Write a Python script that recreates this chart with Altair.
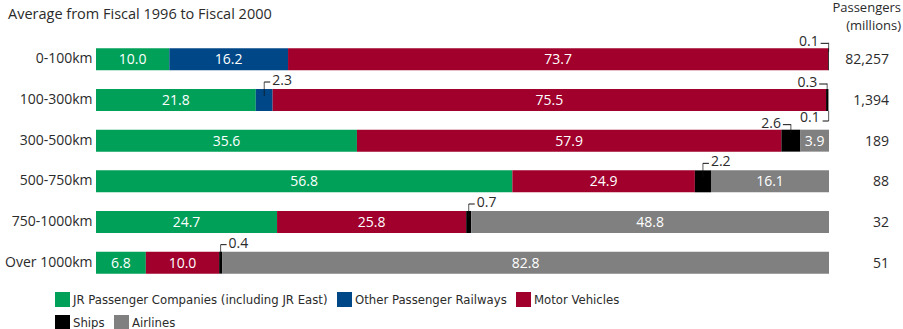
import altair as alt
import pandas as pd

categories = ["0-100km", "100-300km", "300-500km", "500-750km", "750-1000km", "Over 1000km"]
series = ["JR Passenger Companies (including JR East)", "Other Passenger Railways",
          "Motor Vehicles", "Ships", "Airlines"]
colors = ["#00a058", "#004787", "#a0002b", "#000000", "#808080"]

jr = [10.0, 21.8, 35.6, 56.8, 24.7, 6.8]
other_rail = [16.2, 2.3, 0.0, 0.0, 0.0, 0.0]
motor = [73.7, 75.5, 57.9, 24.9, 25.8, 10.0]
ships = [0.1, 0.3, 2.6, 2.2, 0.7, 0.4]
airlines = [0.0, 0.1, 3.9, 16.1, 48.8, 82.8]
passengers = ["82,257", "1,394", "189", "88", "32", "51"]

subtitle = "Average from Fiscal 1996 to Fiscal 2000"
header = "Passengers\n(millions)"

# small callouts: (category, series, placement)
callouts = [
    ("0-100km", "Ships", "above-left"),
    ("100-300km", "Ships", "above-left"),
    ("100-300km", "Airlines", "below-left"),
    ("300-500km", "Ships", "above-left"),
    ("500-750km", "Ships", "above-right"),
    ("100-300km", "Other Passenger Railways", "above-right"),
    ("750-1000km", "Ships", "above-right"),
    ("Over 1000km", "Ships", "above-right"),
]

FONT = "Open Sans"
LEGEND_FONT = "Liberation Sans Narrow, DejaVu Sans Condensed, Roboto"
TXT = "#2b2b2b"

values = [jr, other_rail, motor, ships, airlines]
rows = []
for ci, cat in enumerate(categories):
    cum = 0.0
    for si, s in enumerate(series):
        v = values[si][ci]
        rows.append({"category": cat, "series": s, "value": v, "x0": cum, "x1": cum + v,
                     "mid": cum + v / 2, "label": f"{v:.1f}", "order": si})
        cum += v
df = pd.DataFrame(rows)
df = df[df["value"] > 0]

cdf = pd.DataFrame(callouts, columns=["category", "series", "placement"])
cdf = cdf.merge(df, on=["category", "series"])

pdf = pd.DataFrame({"category": categories, "passengers": passengers})

W, H = 733, 244

xs = alt.Scale(domain=[0, 100], nice=False, zero=True)
ys = alt.Scale(domain=categories, paddingInner=0.46, paddingOuter=0.23)
X = lambda f: alt.X(f, scale=xs, axis=None)
Y = alt.Y("category:N", scale=ys, sort=categories,
          axis=alt.Axis(title=None, ticks=False, domain=False, labelPadding=4,
                        labelFontSize=14, labelFont=FONT, labelColor=TXT,
                        labelFontWeight="normal"))

legend_common = dict(title=None, orient="none", direction="horizontal",
                     symbolType="square", symbolSize=225, symbolStrokeWidth=0,
                     symbolOpacity=1, labelFont=LEGEND_FONT, labelFontSize=13,
                     labelColor=TXT, labelOffset=3, columnPadding=9, padding=0,
                     labelLimit=400)

bars = alt.Chart(df).mark_bar().encode(
    x=X("x0:Q"), x2="x1:Q", y=Y,
    color=alt.Color("series:N", scale=alt.Scale(domain=series, range=colors),
                    legend=alt.Legend(values=series[:3], legendX=-41, legendY=253,
                                      **legend_common)),
)

# second legend row (Ships, Airlines) from an invisible layer using the fill channel
legend2 = alt.Chart(df).transform_filter(
    alt.FieldOneOfPredicate(field="series", oneOf=series[3:])
).mark_bar(opacity=0).encode(
    x=X("x0:Q"), x2="x1:Q", y=Y,
    fill=alt.Fill("series:N", scale=alt.Scale(domain=series[3:], range=colors[3:]),
                  legend=alt.Legend(legendX=-41, legendY=276, **legend_common)),
)

inside = alt.Chart(df).transform_filter("datum.value >= 3").mark_text(
    color="white", fontSize=14, font=FONT, baseline="middle", dy=1
).encode(x=X("mid:Q"), y=Y, text="label:N")

geom = {
    # text dx, text dy, align, horiz y off, horiz x2Offset, vert center off, vert len
    "above-left": (-10, -17, "right", -16, -8, -12, 9),
    "below-left": (-9, 18, "right", 21, -6, 16, 10),
    "above-right": (8, -19, "left", -18, 6, -11, 14),
}
call_layers = []
for pl, (tdx, tdy, al, hy, hx2, vy, vl) in geom.items():
    base = alt.Chart(cdf).transform_filter(alt.datum.placement == pl)
    call_layers.append(base.mark_text(fontSize=14, font=FONT, color=TXT, align=al,
                                      baseline="middle", dx=tdx, dy=tdy)
                       .encode(x=X("mid:Q"), y=Y, text="label:N"))
    call_layers.append(base.mark_rule(color="#111", strokeWidth=1, yOffset=hy, x2Offset=hx2)
                       .encode(x=X("mid:Q"), x2="mid:Q", y=Y))
    call_layers.append(base.mark_tick(color="#111", thickness=1, size=vl, yOffset=vy,
                                      orient="vertical")
                       .encode(x=X("mid:Q"), y=Y))

pass_txt = alt.Chart(pdf).mark_text(fontSize=14, font=FONT, color=TXT, align="right",
                                    baseline="middle", dy=1).encode(
    x=alt.value(793), y=Y, text="passengers:N")

head = alt.Chart(pd.DataFrame({"t": [header]})).mark_text(
    fontSize=13, font=FONT, color=TXT, align="right", baseline="middle",
    lineBreak="\n", lineHeight=18).encode(
    x=alt.value(805), y=alt.value(-31), text="t:N")

sub = alt.Chart(pd.DataFrame({"t": [subtitle]})).mark_text(
    fontSize=14.5, font=FONT, color=TXT, align="left", baseline="middle").encode(
    x=alt.value(-88), y=alt.value(-24), text="t:N")

chart = alt.layer(bars, legend2, inside, *call_layers, pass_txt, head, sub).properties(
    width=W, height=H,
    autosize=alt.AutoSizeParams(type="none"),
    padding={"left": 96, "top": 39, "right": 74, "bottom": 46},
    background="white",
).configure_view(stroke=None)

chart.save("out.html", embed_options={"renderer": "svg", "actions": False})
